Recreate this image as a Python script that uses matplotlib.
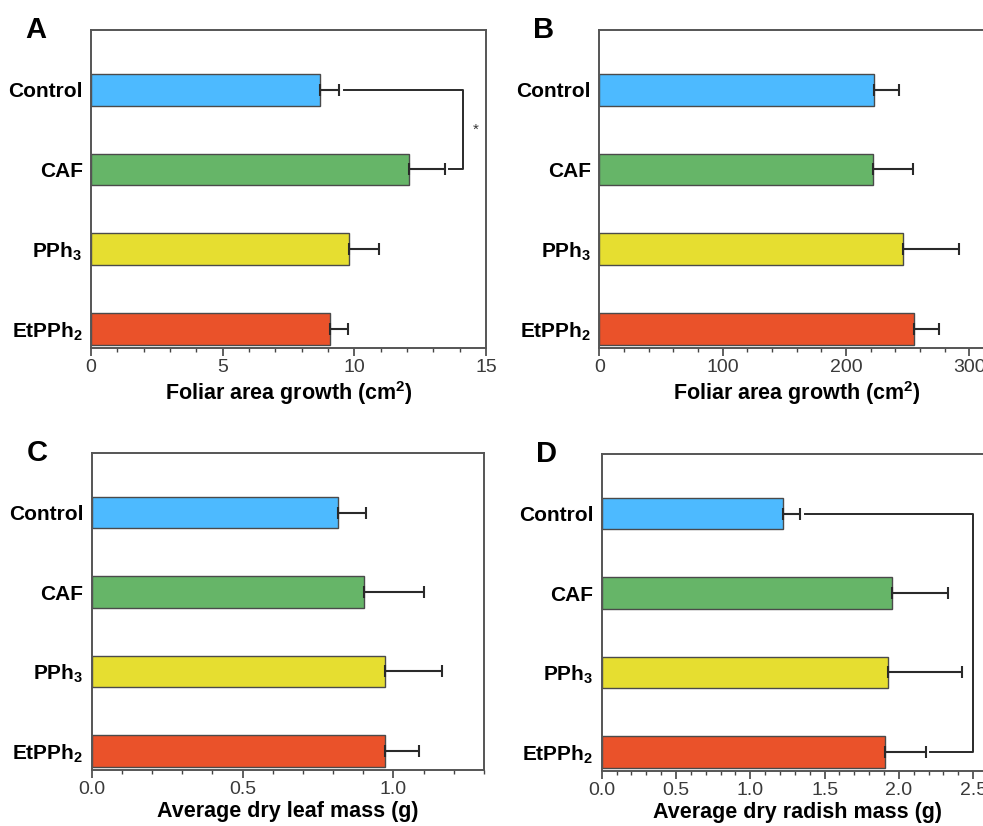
import matplotlib
matplotlib.use("Agg")
import matplotlib.pyplot as plt
from matplotlib.ticker import MultipleLocator

plt.rcParams['font.family'] = ['Liberation Sans', 'DejaVu Sans']
plt.rcParams['mathtext.fontset'] = 'custom'
plt.rcParams['mathtext.rm'] = 'Liberation Sans'
plt.rcParams['mathtext.bf'] = 'Liberation Sans:bold'
plt.rcParams['mathtext.it'] = 'Liberation Sans:italic'
plt.rcParams['mathtext.default'] = 'bf'

categories = ['Control', 'CAF', 'PPh$_3$', 'EtPPh$_2$']
colors = ['#4DBAFF', '#66B568', '#E6DE30', '#EA522A']

foliar_a = [8.70, 12.08, 9.81, 9.06]
foliar_a_err = [0.72, 1.36, 1.14, 0.71]

foliar_b = [223.0, 222.3, 246.5, 255.0]
foliar_b_err = [20.0, 32.3, 45.1, 20.5]

leaf_mass = [0.817, 0.903, 0.973, 0.973]
leaf_mass_err = [0.093, 0.197, 0.188, 0.113]

radish_mass = [1.22, 1.956, 1.927, 1.907]
radish_mass_err = [0.112, 0.372, 0.501, 0.275]

xlabels = ['Foliar area growth (cm$^2$)', 'Foliar area growth (cm$^2$)',
           'Average dry leaf mass (g)', 'Average dry radish mass (g)']
panel_letters = ['A', 'B', 'C', 'D']

fig = plt.figure(figsize=(9.83, 8.26), dpi=100)
W, H = 983.0, 826.0

def make_ax(left, top, right, bottom):
    return fig.add_axes([left / W, 1 - bottom / H, (right - left) / W, (bottom - top) / H])

axA = make_ax(91, 30, 486, 348)
axB = make_ax(599.3, 30, 994, 348)
axC = make_ax(91.7, 453, 484, 770)
axD = make_ax(601.7, 454, 994, 771)

ypos = [4, 3, 2, 1]

def draw(ax, vals, errs, xmax, major, minor, xlabel, letter, fmt):
    ax.barh(ypos, vals, height=0.4, color=colors, edgecolor='#4a4a4a', linewidth=1.0, zorder=2)
    ax.errorbar(vals, ypos, xerr=[[0] * len(errs), errs], fmt='none', ecolor='#2a2a2a',
                elinewidth=1.5, capsize=4, capthick=1.5, zorder=3)
    ax.set_xlim(0, xmax)
    ax.set_ylim(0.76, 4.75)
    ax.set_yticks(ypos)
    ax.set_yticklabels(categories, fontsize=15, fontweight='bold')
    ax.tick_params(axis='y', length=0, pad=6)
    ax.xaxis.set_major_locator(MultipleLocator(major))
    ax.xaxis.set_minor_locator(MultipleLocator(minor))
    ax.xaxis.set_major_formatter(matplotlib.ticker.FormatStrFormatter(fmt))
    ax.tick_params(axis='x', which='major', direction='out', length=6, width=1.2,
                   labelsize=14, colors='#444444', labelcolor='#3a3a3a', pad=2)
    ax.tick_params(axis='x', which='minor', direction='out', length=3, width=1.0, colors='#444444')
    for s in ax.spines.values():
        s.set_color('#555555')
        s.set_linewidth(1.4)
    ax.set_xlabel(xlabel, fontsize=15.5, fontweight='bold', labelpad=2)
    ax.text(-0.14, 1.0, letter, transform=ax.transAxes, fontsize=21, fontweight='bold',
            ha='center', va='center')

draw(axA, foliar_a, foliar_a_err, 15, 5, 1, xlabels[0], 'A', '%d')
draw(axB, foliar_b, foliar_b_err, 320, 100, 20, xlabels[1], 'B', '%d')
draw(axC, leaf_mass, leaf_mass_err, 1.3, 0.5, 0.1, xlabels[2], 'C', '%.1f')
draw(axD, radish_mass, radish_mass_err, 2.64, 0.5, 0.1, xlabels[3], 'D', '%.1f')

# significance brackets
lw = 1.4
bc = '#2a2a2a'
axA.plot([9.61, 14.11, 14.11, 13.6], [4, 4, 3, 3], color=bc, lw=lw, zorder=3)
axA.text(14.62, 3.5, '*', fontsize=11, ha='center', va='center', color='#333333')
axD.plot([1.366, 2.502, 2.502, 2.21], [4, 4, 1, 1], color=bc, lw=lw, zorder=3)

fig.savefig('out.png', dpi=100)
